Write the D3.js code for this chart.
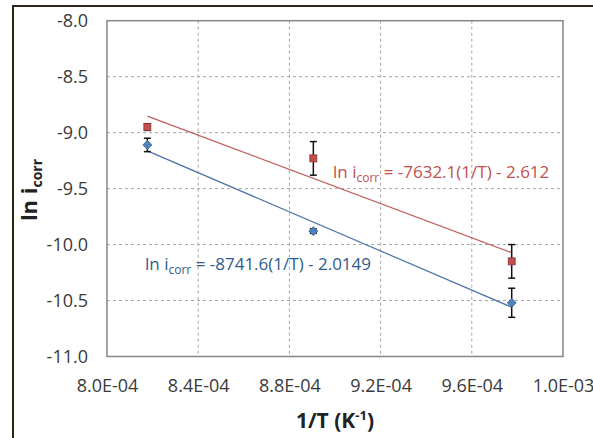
<!DOCTYPE html>
<html>
<head>
<meta charset="utf-8">
<script src="https://cdn.jsdelivr.net/npm/d3@7"></script>
<style>
  html, body { margin: 0; padding: 0; background: #fff; }
  svg { display: block; font-family: 'Open Sans', 'Noto Sans', sans-serif; }
</style>
</head>
<body>
<svg id="chart" width="593" height="438"></svg>
<script>
// values
const invT = [8.177e-4, 8.905e-4, 9.775e-4]
const redY = [-8.95, -9.23, -10.15]
const redErr = [0.03, 0.15, 0.15]
const blueY = [-9.11, -9.88, -10.52]
const blueErr = [0.06, 0.02, 0.13]
// trend line coefficients (slope, intercept) from the labels
const redFit = [-7632.1, -2.612]
const blueFit = [-8741.6, -2.0149]
const xTicks = [8.0e-4, 8.4e-4, 8.8e-4, 9.2e-4, 9.6e-4, 1.0e-3]
const xTickLabels = ['8.0E-04', '8.4E-04', '8.8E-04', '9.2E-04', '9.6E-04', '1.0E-03']
const yTicks = [-8.0, -8.5, -9.0, -9.5, -10.0, -10.5, -11.0]

const plot = { left: 107, right: 563, top: 20.7, bottom: 356.5 }
const colors = {
  red: '#c0504d', redDark: '#8c3836', redText: '#c0504d',
  blue: '#4f81bd', blueDark: '#385d8a', blueText: '#2e5c8c'
}

const svg = d3.select('#chart')

// outer chart frame (cropped on the right and bottom)
svg.append('path')
  .attr('d', 'M13,440 L13,6 L600,6')
  .attr('fill', 'none')
  .attr('stroke', '#2e2618')
  .attr('stroke-width', 2)

const x = d3.scaleLinear().domain([8.0e-4, 1.0e-3]).range([plot.left, plot.right])
const y = d3.scaleLinear().domain([-11, -8]).range([plot.bottom, plot.top])

// grid
svg.append('g')
  .selectAll('line')
  .data(xTicks.slice(1, -1))
  .enter()
  .append('line')
  .attr('x1', d => x(d)).attr('x2', d => x(d))
  .attr('y1', plot.top).attr('y2', plot.bottom)
  .attr('stroke', '#a6a6a6')
  .attr('stroke-dasharray', '3,3')
svg.append('g')
  .selectAll('line')
  .data(yTicks.slice(1, -1))
  .enter()
  .append('line')
  .attr('y1', d => y(d)).attr('y2', d => y(d))
  .attr('x1', plot.left).attr('x2', plot.right)
  .attr('stroke', '#a6a6a6')
  .attr('stroke-dasharray', '3,3')

svg.append('rect')
  .attr('x', plot.left).attr('y', plot.top)
  .attr('width', plot.right - plot.left)
  .attr('height', plot.bottom - plot.top)
  .attr('fill', 'none')
  .attr('stroke', '#868686')
  .attr('stroke-width', 1.5)

// axes (labels only, no tick marks)
const xAxis = svg.append('g')
  .attr('transform', `translate(0,${plot.bottom})`)
  .call(d3.axisBottom(x).tickValues(xTicks).tickFormat((d, i) => xTickLabels[i]).tickSize(0).tickPadding(23))
const yAxis = svg.append('g')
  .attr('transform', `translate(${plot.left},0)`)
  .call(d3.axisLeft(y).tickValues(yTicks).tickFormat(d3.format('.1f')).tickSize(0).tickPadding(19))
;[xAxis, yAxis].forEach(a => {
  a.select('.domain').remove()
  a.selectAll('text')
    .attr('fill', '#3a3a3a')
    .style('font-size', '18px')
    .style('font-family', "'Open Sans', sans-serif")
})
yAxis.selectAll('text').text(d => d3.format('.1f')(d).replace('−', '-'))

// trend lines
function drawFit (fit, color) {
  const xs = [invT[0], invT[invT.length - 1]]
  svg.append('path')
    .datum(xs)
    .attr('fill', 'none')
    .attr('stroke', color)
    .attr('stroke-width', 1.2)
    .attr('d', d3.line().x(d => x(d)).y(d => y(fit[0] * d + fit[1])))
}
drawFit(redFit, '#c25b59')
drawFit(blueFit, '#4a72aa')

// error bars
function drawErr (ys, errs) {
  const g = svg.append('g')
  ys.forEach((v, i) => {
    const cx = x(invT[i])
    const y1 = y(v + errs[i])
    const y2 = y(v - errs[i])
    g.append('line').attr('x1', cx).attr('x2', cx).attr('y1', y1).attr('y2', y2)
      .attr('stroke', '#111').attr('stroke-width', 1.5)
    ;[y1, y2].forEach(yy => {
      g.append('line').attr('x1', cx - 3.5).attr('x2', cx + 3.5).attr('y1', yy).attr('y2', yy)
        .attr('stroke', '#111').attr('stroke-width', 1.5)
    })
  })
}
drawErr(redY, redErr)
drawErr(blueY, blueErr)

// markers
svg.append('g')
  .selectAll('rect')
  .data(redY)
  .enter()
  .append('rect')
  .attr('x', (d, i) => x(invT[i]) - 3.5)
  .attr('y', d => y(d) - 3.5)
  .attr('width', 7).attr('height', 7)
  .attr('fill', colors.red)
  .attr('stroke', colors.redDark)
  .attr('stroke-width', 0.8)
svg.append('g')
  .selectAll('path')
  .data(blueY)
  .enter()
  .append('path')
  .attr('transform', (d, i) => `translate(${x(invT[i])},${y(d)})`)
  .attr('d', 'M0,-4.5 L4.5,0 L0,4.5 L-4.5,0 Z')
  .attr('fill', colors.blue)
  .attr('stroke', colors.blueDark)
  .attr('stroke-width', 0.8)

// equation labels
function eqLabel (px, py, color, rest) {
  const t = svg.append('text')
    .attr('x', px).attr('y', py)
    .attr('fill', color)
    .style('font-size', '17px')
  t.append('tspan').text('ln i')
  t.append('tspan').text('corr').style('font-size', '12px').attr('dy', 4)
  t.append('tspan').text(' ' + rest).attr('dy', -4)
}
eqLabel(333, 178, colors.redText, '= -7632.1(1/T) - 2.612')
eqLabel(145, 270, colors.blueText, '= -8741.6(1/T) - 2.0149')

// axis titles
svg.append('text')
  .attr('x', 335).attr('y', 428)
  .attr('text-anchor', 'middle')
  .style('font-size', '21px')
  .style('font-weight', 'bold')
  .attr('fill', '#222')
  .call(t => {
    t.append('tspan').text('1/T (K')
    t.append('tspan').text('-1').style('font-size', '13px').attr('dy', -8)
    t.append('tspan').text(')').attr('dy', 8)
  })

svg.append('text')
  .attr('transform', 'translate(37,190) rotate(-90)')
  .attr('text-anchor', 'middle')
  .style('font-size', '22px')
  .style('font-weight', 'bold')
  .attr('fill', '#222')
  .call(t => {
    t.append('tspan').text('ln i')
    t.append('tspan').text('corr').style('font-size', '14px').attr('dy', 5)
  })
</script>
</body>
</html>
